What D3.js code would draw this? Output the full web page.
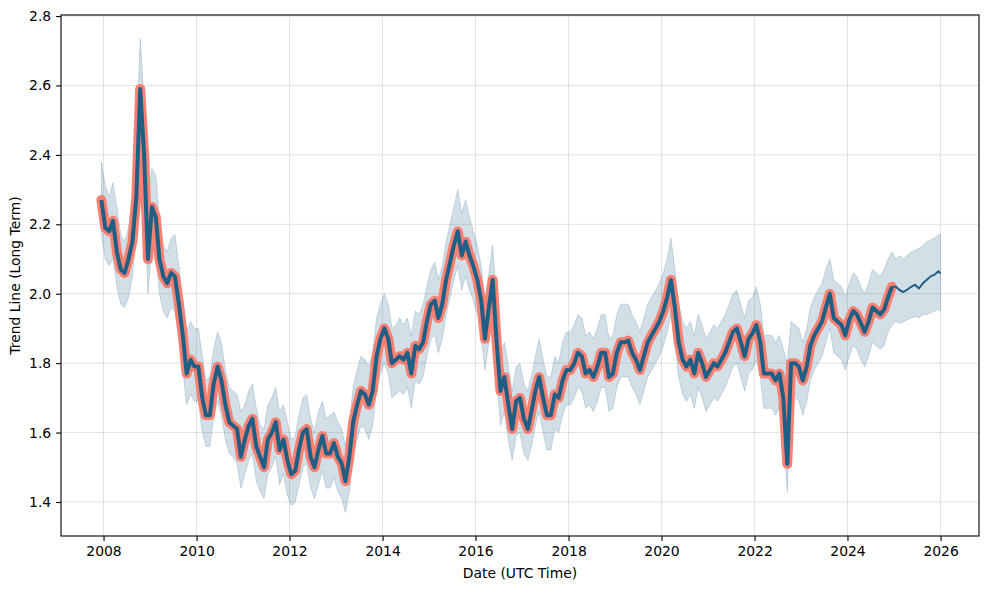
<!DOCTYPE html>
<html>
<head>
<meta charset="utf-8">
<script src="https://cdn.jsdelivr.net/npm/d3@7"></script>
<style>
  html, body { margin: 0; padding: 0; background: #fff; }
  svg text { font-family: "DejaVu Sans", sans-serif; }
</style>
</head>
<body>
<svg id="chart" width="989" height="589"></svg>
<script>
// ---- Data (monthly) ----
// History: Dec 2007 .. Dec 2024 (mid-month)
const trendHistory = [
  2.27,
  2.19, 2.18, 2.21, 2.12, 2.07, 2.06, 2.10, 2.15, 2.28, 2.59, 2.40, 2.10,
  2.25, 2.22, 2.10, 2.05, 2.03, 2.06, 2.05, 1.97, 1.88, 1.77, 1.81, 1.79,
  1.79, 1.70, 1.65, 1.65, 1.74, 1.79, 1.75, 1.68, 1.63, 1.62, 1.61, 1.53,
  1.58, 1.62, 1.64, 1.56, 1.53, 1.50, 1.58, 1.60, 1.63, 1.55, 1.58, 1.52,
  1.48, 1.49, 1.55, 1.60, 1.61, 1.53, 1.50, 1.55, 1.59, 1.54, 1.54, 1.57,
  1.53, 1.51, 1.46, 1.53, 1.63, 1.68, 1.72, 1.71, 1.68, 1.72, 1.82, 1.87,
  1.90, 1.87, 1.80, 1.81, 1.82, 1.81, 1.83, 1.77, 1.85, 1.84, 1.86, 1.92,
  1.97, 1.98, 1.93, 1.97, 2.04, 2.09, 2.14, 2.18, 2.11, 2.15, 2.11, 2.08,
  2.04, 1.98, 1.87, 1.96, 2.04, 1.86, 1.72, 1.76, 1.68, 1.61, 1.69, 1.70,
  1.64, 1.61, 1.66, 1.72, 1.76, 1.70, 1.65, 1.65, 1.71, 1.70, 1.75, 1.78,
  1.78, 1.80, 1.83, 1.82, 1.77, 1.78, 1.76, 1.79, 1.83, 1.83, 1.76, 1.77,
  1.83, 1.86, 1.86, 1.865, 1.83, 1.81, 1.78, 1.82, 1.86, 1.88, 1.90, 1.92,
  1.95, 1.99, 2.04, 1.96, 1.86, 1.81, 1.79, 1.81, 1.77, 1.83, 1.80, 1.76,
  1.78, 1.80, 1.79, 1.81, 1.83, 1.86, 1.89, 1.90, 1.86, 1.82, 1.87, 1.885,
  1.91, 1.86, 1.77, 1.77, 1.77, 1.75, 1.77, 1.70, 1.51, 1.80, 1.80, 1.79,
  1.75, 1.79, 1.85, 1.88, 1.90, 1.92, 1.96, 2.00, 1.93, 1.92, 1.91, 1.88,
  1.925, 1.95, 1.94, 1.915, 1.89, 1.92, 1.96, 1.95, 1.94, 1.955, 1.99, 2.02
];
const upperHistory = [
  2.38,
  2.31, 2.28, 2.32, 2.25, 2.17, 2.15, 2.19, 2.26, 2.42, 2.735, 2.55, 2.28,
  2.36, 2.34, 2.22, 2.14, 2.12, 2.16, 2.17, 2.08, 1.99, 1.89, 1.92, 1.90,
  1.90, 1.82, 1.75, 1.76, 1.84, 1.89, 1.86, 1.78, 1.73, 1.72, 1.71, 1.66,
  1.68, 1.72, 1.74, 1.67, 1.62, 1.61, 1.68, 1.70, 1.73, 1.66, 1.68, 1.63,
  1.58, 1.59, 1.65, 1.70, 1.71, 1.64, 1.60, 1.66, 1.69, 1.64, 1.65, 1.66,
  1.63, 1.61, 1.56, 1.63, 1.73, 1.78, 1.82, 1.81, 1.79, 1.83, 1.93, 1.97,
  2.00, 1.97, 1.90, 1.91, 1.93, 1.91, 1.93, 1.88, 1.95, 1.94, 1.97, 2.02,
  2.07, 2.09, 2.04, 2.08, 2.15, 2.20, 2.25, 2.30, 2.23, 2.27, 2.22, 2.18,
  2.14, 2.08, 1.98, 2.06, 2.14, 1.97, 1.83, 1.86, 1.79, 1.72, 1.79, 1.80,
  1.74, 1.72, 1.76, 1.82, 1.87, 1.81, 1.76, 1.76, 1.82, 1.80, 1.86, 1.89,
  1.89, 1.91, 1.94, 1.93, 1.88, 1.89, 1.87, 1.90, 1.94, 1.94, 1.87, 1.88,
  1.94, 1.97, 1.97, 1.97, 1.94, 1.92, 1.89, 1.93, 1.97, 1.99, 2.01, 2.03,
  2.06, 2.10, 2.16, 2.07, 1.97, 1.92, 1.90, 1.92, 1.88, 1.94, 1.91, 1.87,
  1.89, 1.91, 1.90, 1.92, 1.94, 1.97, 2.00, 2.01, 1.97, 1.93, 1.98, 1.99,
  2.02, 1.97, 1.88, 1.88, 1.88, 1.86, 1.88, 1.84, 1.80, 1.92, 1.91, 1.90,
  1.86, 1.90, 1.96, 1.99, 2.01, 2.03, 2.07, 2.10, 2.04, 2.03, 2.02, 1.99,
  2.03, 2.06, 2.05, 2.02, 2.00, 2.03, 2.07, 2.06, 2.05, 2.07, 2.10, 2.12
];
const lowerHistory = [
  2.17,
  2.10, 2.08, 2.10, 2.02, 1.97, 1.96, 1.99, 2.05, 2.17, 2.46, 2.28, 2.00,
  2.14, 2.12, 2.00, 1.95, 1.93, 1.96, 1.95, 1.87, 1.78, 1.68, 1.71, 1.69,
  1.69, 1.60, 1.56, 1.56, 1.64, 1.69, 1.65, 1.58, 1.54, 1.53, 1.51, 1.44,
  1.48, 1.52, 1.54, 1.46, 1.43, 1.41, 1.48, 1.50, 1.53, 1.45, 1.48, 1.42,
  1.39, 1.40, 1.45, 1.50, 1.51, 1.44, 1.41, 1.45, 1.49, 1.44, 1.44, 1.47,
  1.43, 1.41, 1.37, 1.43, 1.53, 1.58, 1.62, 1.61, 1.58, 1.62, 1.72, 1.77,
  1.80, 1.77, 1.70, 1.71, 1.72, 1.71, 1.73, 1.67, 1.75, 1.74, 1.76, 1.82,
  1.87, 1.88, 1.83, 1.87, 1.94, 1.99, 2.04, 2.08, 2.01, 2.05, 2.01, 1.98,
  1.94, 1.88, 1.78, 1.86, 1.94, 1.76, 1.62, 1.66, 1.58, 1.52, 1.59, 1.60,
  1.54, 1.52, 1.56, 1.62, 1.66, 1.60, 1.55, 1.55, 1.61, 1.60, 1.65, 1.68,
  1.68, 1.70, 1.73, 1.72, 1.67, 1.68, 1.66, 1.69, 1.73, 1.73, 1.66, 1.67,
  1.73, 1.76, 1.76, 1.76, 1.73, 1.71, 1.68, 1.72, 1.76, 1.78, 1.80, 1.82,
  1.85, 1.89, 1.94, 1.86, 1.76, 1.71, 1.69, 1.71, 1.67, 1.73, 1.70, 1.66,
  1.68, 1.70, 1.69, 1.71, 1.73, 1.76, 1.79, 1.80, 1.76, 1.72, 1.77, 1.78,
  1.81, 1.76, 1.67, 1.67, 1.67, 1.65, 1.67, 1.60, 1.43, 1.70, 1.70, 1.69,
  1.65, 1.69, 1.75, 1.78, 1.80, 1.82, 1.86, 1.90, 1.83, 1.82, 1.81, 1.78,
  1.82, 1.85, 1.84, 1.81, 1.79, 1.82, 1.86, 1.85, 1.84, 1.85, 1.89, 1.91
];
// Forecast: Jan 2025 .. Dec 2025 (mid-month) + 1 Jan 2026
const trendForecast = [2.02, 2.01, 2.005, 2.012, 2.02, 2.026, 2.015, 2.03, 2.04, 2.05, 2.055, 2.065, 2.058];
const upperForecast = [2.10, 2.11, 2.10, 2.11, 2.12, 2.125, 2.13, 2.14, 2.15, 2.155, 2.16, 2.17, 2.17];
const lowerForecast = [1.92, 1.915, 1.92, 1.925, 1.93, 1.935, 1.93, 1.94, 1.94, 1.945, 1.95, 1.955, 1.95];

const yTickValues = [1.4, 1.6, 1.8, 2.0, 2.2, 2.4, 2.6, 2.8];
const xLabel = "Date (UTC Time)";
const yLabel = "Trend Line (Long Term)";

// ---- Dates ----
const histDates = trendHistory.map((_, i) => new Date(Date.UTC(2007, 11 + i, 15)));
const fcDates = trendForecast.map((_, i) => i < 12 ? new Date(Date.UTC(2025, i, 15)) : new Date(Date.UTC(2026, 0, 1)));

const hist = histDates.map((d, i) => ({ d, v: trendHistory[i], lo: lowerHistory[i], hi: upperHistory[i] }));
const fc = fcDates.map((d, i) => ({ d, v: trendForecast[i], lo: lowerForecast[i], hi: upperForecast[i] }));
const all = hist.concat(fc);

// ---- Layout ----
const W = 989, H = 589;
const m = { left: 61, right: 10, top: 15, bottom: 53 };
const iw = W - m.left - m.right, ih = H - m.top - m.bottom;

const svg = d3.select("#chart");
const g = svg.append("g").attr("transform", `translate(${m.left},${m.top})`);

const x = d3.scaleUtc()
  .domain([new Date(Date.UTC(2007, 1, 1)), new Date(Date.UTC(2026, 9, 30))])
  .range([0, iw]);
const y = d3.scaleLinear().domain([1.302, 2.803]).range([ih, 0]);

const xTicks = x.ticks(d3.utcYear.every(2));

// Grid
g.append("g").selectAll("line.vx").data(xTicks).join("line")
  .attr("x1", d => x(d)).attr("x2", d => x(d)).attr("y1", 0).attr("y2", ih)
  .attr("stroke", "#b0b0b0").attr("stroke-opacity", 0.35).attr("stroke-width", 1);
g.append("g").selectAll("line.hy").data(yTickValues).join("line")
  .attr("x1", 0).attr("x2", iw).attr("y1", d => y(d)).attr("y2", d => y(d))
  .attr("stroke", "#b0b0b0").attr("stroke-opacity", 0.35).attr("stroke-width", 1);

// Band
const area = d3.area().x(d => x(d.d)).y0(d => y(d.lo)).y1(d => y(d.hi)).curve(d3.curveLinear);
g.append("path").datum(all).attr("d", area)
  .attr("fill", "#1f5f85").attr("fill-opacity", 0.2)
  .attr("stroke", "#1f5f85").attr("stroke-opacity", 0.2).attr("stroke-width", 1);

const line = d3.line().x(d => x(d.d)).y(d => y(d.v));

// Salmon thick (actual)
g.append("path").datum(hist).attr("d", line)
  .attr("fill", "none").attr("stroke", "#fa8072").attr("stroke-width", 10)
  .attr("stroke-linejoin", "round").attr("stroke-linecap", "round");

// Trend line
g.append("path").datum(hist).attr("d", line)
  .attr("fill", "none").attr("stroke", "#1f5f85").attr("stroke-width", 4)
  .attr("stroke-linejoin", "round");
g.append("path").datum([hist[hist.length - 1]].concat(fc)).attr("d", line)
  .attr("fill", "none").attr("stroke", "#1f5f85").attr("stroke-width", 2)
  .attr("stroke-linejoin", "round");

// Axes
const fontSize = "13.9px";
const xAxis = g.append("g").attr("transform", `translate(0,${ih})`)
  .call(d3.axisBottom(x).tickValues(xTicks).tickFormat(d3.utcFormat("%Y")).tickSize(4.9).tickPadding(4.9));
const yAxis = g.append("g")
  .call(d3.axisLeft(y).tickValues(yTickValues).tickFormat(d3.format(".1f")).tickSize(4.9).tickPadding(4.9));
[xAxis, yAxis].forEach(a => {
  a.select(".domain").remove();
  a.selectAll(".tick line").attr("stroke", "#000").attr("stroke-width", 1.1);
  a.selectAll(".tick text").attr("fill", "#000").style("font-size", fontSize).style("font-family", "DejaVu Sans");
});

// Frame
g.append("rect").attr("x", 0).attr("y", 0).attr("width", iw).attr("height", ih)
  .attr("fill", "none").attr("stroke", "#000").attr("stroke-width", 1.1);

// Labels
svg.append("text").attr("x", m.left + iw / 2).attr("y", 578)
  .attr("text-anchor", "middle").style("font-size", fontSize).attr("fill", "#000").text(xLabel);
svg.append("text").attr("transform", `translate(20,${m.top + ih / 2}) rotate(-90)`)
  .attr("text-anchor", "middle").style("font-size", fontSize).attr("fill", "#000").text(yLabel);
</script>
</body>
</html>
